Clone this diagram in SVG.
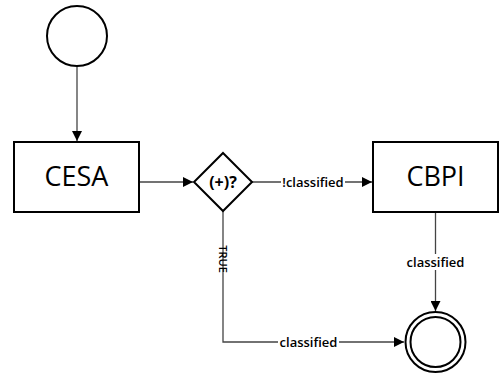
<svg xmlns="http://www.w3.org/2000/svg" width="503" height="373" viewBox="0 0 503 373">
<style>
.node{fill:#fff;stroke:#000;stroke-width:2}
.edge{fill:none;stroke:#444;stroke-width:1.3}
.big{font-family:"Open Sans","Noto Sans",sans-serif;font-size:27px;fill:#000;text-anchor:middle}
.lbl{font-family:"Open Sans","Noto Sans",sans-serif;font-size:13px;font-weight:600;fill:#000;text-anchor:middle}
.bg{fill:#fff}
</style>
<defs>
<marker id="arr" viewBox="0 0 10 10" refX="10" refY="5" markerWidth="10" markerHeight="10" markerUnits="userSpaceOnUse" orient="auto">
<path d="M0,0 L10,5 L0,10 Z" fill="#000"/>
</marker>
</defs>
<g id="connectors">
<path class="edge" d="M77,66 V141" marker-end="url(#arr)"/>
<path class="edge" d="M139,182 H193" marker-end="url(#arr)"/>
<path class="edge" d="M252,182 H372" marker-end="url(#arr)"/>
<path class="edge" d="M435.5,212 V311" marker-end="url(#arr)"/>
<path class="edge" d="M223,211 V342 H404" marker-end="url(#arr)"/>
<rect class="bg" x="281" y="174" width="64" height="16"/>
<text class="lbl" x="313" y="187">!classified</text>
<rect class="bg" x="405" y="254" width="61" height="16"/>
<text class="lbl" x="435.5" y="267">classified</text>
<rect class="bg" x="278" y="334" width="61" height="16"/>
<text class="lbl" x="308.5" y="347">classified</text>
<text class="lbl" transform="translate(223,259) rotate(90)" y="4" style="font-size:11px">TRUE</text>
</g>
<g id="start"><circle class="node" cx="77" cy="36" r="30"/></g>
<g id="cesa"><rect class="node" x="14" y="142" width="125" height="70"/><text class="big" x="76.5" y="186">CESA</text></g>
<g id="gateway"><path class="node" d="M223,153 L252,182 L223,211 L194,182 Z"/><text class="lbl" x="223" y="188" style="font-size:16px;font-weight:700">(+)?</text></g>
<g id="cbpi"><rect class="node" x="373" y="142" width="125" height="70"/><text class="big" x="435.5" y="186">CBPI</text></g>
<g id="end"><circle class="node" cx="435.5" cy="342" r="30"/><circle class="node" cx="435.5" cy="342" r="25"/></g>
</svg>
